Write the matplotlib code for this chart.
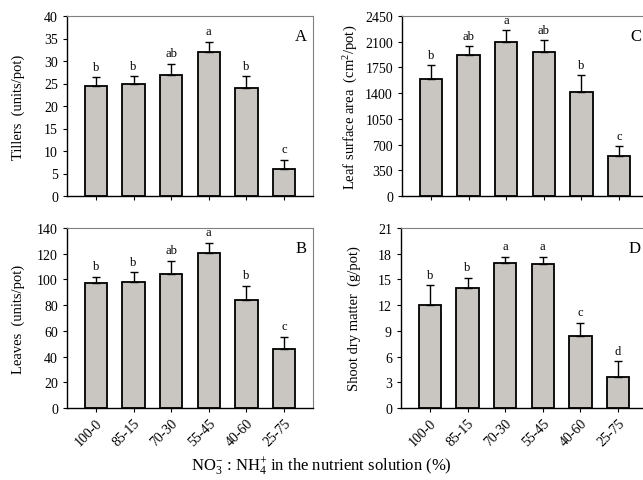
import matplotlib
matplotlib.use("Agg")
import matplotlib.pyplot as plt
import numpy as np

plt.rcParams['font.family'] = ['Liberation Serif', 'DejaVu Serif']
plt.rcParams['mathtext.fontset'] = 'custom'
plt.rcParams['mathtext.rm'] = 'Liberation Serif'
plt.rcParams['mathtext.it'] = 'Liberation Serif:italic'

categories = ["100-0", "85-15", "70-30", "55-45", "40-60", "25-75"]

tillers = [24.5, 25.0, 26.9, 32.0, 24.1, 6.1]
tillers_err = [1.9, 1.6, 2.5, 2.3, 2.5, 1.9]
tillers_letters = ["b", "b", "ab", "a", "b", "c"]

leaves = [97.5, 98.3, 104.5, 120.8, 83.7, 46.1]
leaves_err = [4.7, 7.2, 10.1, 7.8, 11.5, 9.4]
leaves_letters = ["b", "b", "ab", "a", "b", "c"]

leaf_area = [1593, 1919, 2101, 1965, 1420, 549]
leaf_area_err = [186, 123, 159, 159, 227, 136]
leaf_area_letters = ["b", "ab", "a", "ab", "b", "c"]

shoot_dm = [12.05, 14.04, 16.9, 16.76, 8.44, 3.66]
shoot_dm_err = [2.25, 1.16, 0.76, 0.9, 1.52, 1.79]
shoot_dm_letters = ["b", "b", "a", "a", "c", "d"]

fig = plt.figure(figsize=(6.43, 4.81), dpi=100)
W, H = 643, 481

def ax_at(l, t, r, b):
    return fig.add_axes([l / W, 1 - b / H, (r - l) / W, (b - t) / H])

panels = [
    (ax_at(67, 17, 313, 197), tillers, tillers_err, tillers_letters, (0, 40), 5,
     "Tillers  (units/pot)", "A", False, 1.0, 13.5),
    (ax_at(402, 17, 648, 197), leaf_area, leaf_area_err, leaf_area_letters, (0, 2450), 350,
     r"Leaf surface area  (cm$^2$/pot)", "C", False, 55, 4.0),
    (ax_at(67, 229, 313, 409), leaves, leaves_err, leaves_letters, (0, 140), 20,
     "Leaves  (units/pot)", "B", True, 3.5, 8.5),
    (ax_at(401, 229, 647, 409), shoot_dm, shoot_dm_err, shoot_dm_letters, (0, 21), 3,
     "Shoot dry matter  (g/pot)", "D", True, 0.5, 12.5),
]

x = np.arange(len(categories))
for ax, vals, errs, letters, ylim, step, ylabel, tag, show_x, off, lp in panels:
    ax.bar(x, vals, width=0.59, color="#c9c6c2", edgecolor="black", linewidth=1.3, zorder=2)
    ax.errorbar(x, vals, yerr=[np.zeros(len(vals)), errs], fmt="none", ecolor="black",
                elinewidth=1.0, capsize=3.0, capthick=1.0, zorder=3)
    for xi, v, e, lt in zip(x, vals, errs, letters):
        ax.text(xi, v + e + off, lt, ha="center", va="bottom", fontsize=9)
    ax.set_xlim(-0.77, 5.77)
    ax.set_ylim(*ylim)
    ax.set_yticks(np.arange(ylim[0], ylim[1] + step / 2, step))
    ax.set_xticks(x)
    if show_x:
        ax.set_xticklabels(categories, rotation=45, ha="right", rotation_mode="anchor", fontsize=9.5)
    else:
        ax.set_xticklabels([])
    ax.tick_params(axis="both", direction="out", length=3, width=0.8, labelsize=10)
    ax.tick_params(axis="x", pad=3)
    ax.set_ylabel(ylabel, fontsize=10.5, labelpad=lp)
    for s in ["top", "right"]:
        ax.spines[s].set_color("#808080")
        ax.spines[s].set_linewidth(0.8)
    for s in ["bottom", "left"]:
        ax.spines[s].set_linewidth(1.0)
    ax.text(0.95, 0.89, tag, transform=ax.transAxes, ha="center", va="center", fontsize=12)

fig.text(0.5, 1 - 467 / H, r"NO$_3^{-}$ : NH$_4^{+}$ in the nutrient solution (%)",
         ha="center", va="center", fontsize=12)

fig.savefig("out.png", dpi=100)
